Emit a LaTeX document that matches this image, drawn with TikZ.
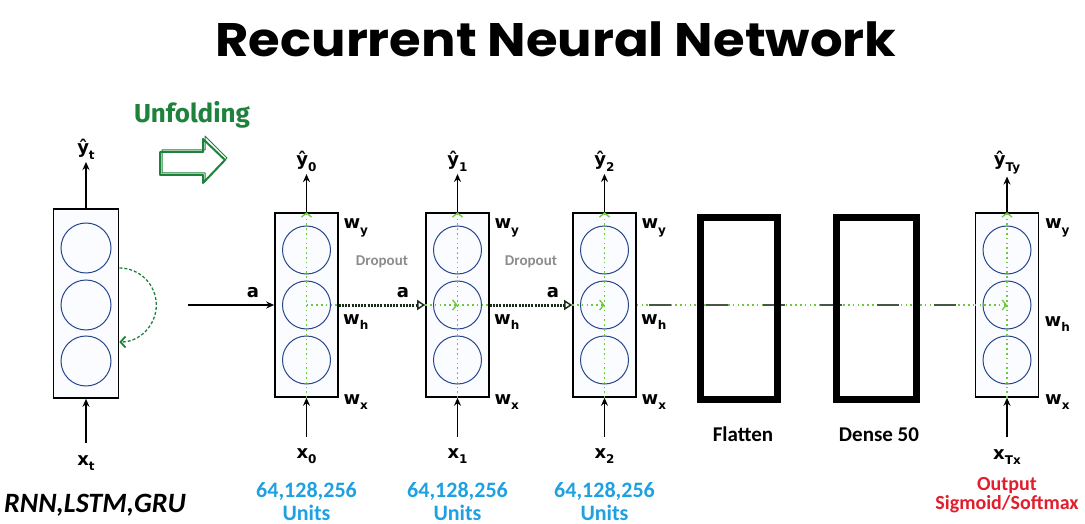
\documentclass[tikz,border=0pt]{standalone}
\usepackage{fontspec}
\setmainfont{DejaVu Sans}
\newfontfamily\titlefont{Poppins}
\newfontfamily\calfont{Carlito}
\newfontfamily\firafont{Fira Sans}
\usetikzlibrary{arrows.meta}

\definecolor{unitblue}{RGB}{40,70,140}
\definecolor{cellfill}{RGB}{250,252,255}
\definecolor{lgreen}{RGB}{110,200,60}
\definecolor{dgreen}{RGB}{30,130,60}
\definecolor{darkdot}{RGB}{25,45,25}
\definecolor{unitsblue}{RGB}{30,160,225}
\definecolor{outred}{RGB}{225,30,45}
\definecolor{dropgray}{RGB}{140,140,140}

% symbol with a lowered subscript
\newcommand\symsub[2]{#1\raisebox{-0.32em}{\fontsize{12}{12}\selectfont #2}}

\begin{document}
\begin{tikzpicture}[x=1pt,y=-1pt,
  cell/.style={draw=black, line width=1.6pt, fill=cellfill, minimum width=63pt, minimum height=184pt, inner sep=0pt},
  unit/.style={circle, draw=unitblue, line width=1pt, minimum size=48pt, inner sep=0pt},
  layerbox/.style={draw=black, line width=7pt, minimum width=77pt, minimum height=182pt, inner sep=0pt},
  lab/.style={inner sep=0pt, font=\bfseries\fontsize{18}{22}\selectfont},
  wlab/.style={inner sep=0pt, font=\bfseries\fontsize{18}{22}\selectfont},
  arr/.style={line width=1.8pt, -{Stealth[length=8pt,width=7pt]}},
  gdot/.style={draw=lgreen, line width=1.6pt, dash pattern=on 1.6pt off 3.2pt},
  chev/.style={-{Straight Barb[length=4pt,width=10pt,line width=1.3pt]}},
  recur/.style={draw=darkdot, line width=3pt, dash pattern=on 2pt off 1.2pt,
    -{Triangle[open,length=8pt,width=10pt,line width=1.5pt]}},
  darkdash/.style={draw=darkdot!80, line width=2.5pt, dash pattern=on 22pt off 35pt},
  unitstxt/.style={inner sep=0pt, text=unitsblue, font=\calfont\bfseries\fontsize{22}{24}\selectfont},
  outtxt/.style={inner sep=0pt, text=outred, font=\calfont\bfseries\fontsize{20}{22}\selectfont},
  captxt/.style={inner sep=0pt, font=\calfont\bfseries\fontsize{21}{24}\selectfont},
  droptxt/.style={inner sep=0pt, text=dropgray, font=\calfont\bfseries\fontsize{15}{17}\selectfont},
]
\useasboundingbox (0,0) rectangle (1085,524);

% title
\node[inner sep=0pt, anchor=base, font=\titlefont\bfseries\fontsize{47}{50}\selectfont] (title) at (556,57) {\scalebox{1.09}[1]{Recurrent Neural Network}};

% unfolding label and hollow arrow
\node[inner sep=0pt, anchor=base, text=dgreen, font=\firafont\bfseries\fontsize{26}{28}\selectfont] (unf) at (192,123) {Unfolding};
\draw[dgreen, line width=1pt, line join=round] (162,150) -- (205,150) -- (205,136) -- (227,158) -- (205,181) -- (205,173) -- (162,173) -- cycle;
\draw[dgreen, line width=2pt, line join=round] (160,152) -- (203,152) -- (203,139) -- (225,160) -- (203,183) -- (203,175) -- (160,175) -- cycle;

% folded cell
\node[cell, minimum width=65pt, minimum height=189pt] (L) at (86,303.5) {};
\node[unit, minimum size=50pt] (L-u1) at (86,248) {};
\node[unit, minimum size=50pt] (L-u2) at (86,305) {};
\node[unit, minimum size=50pt] (L-u3) at (86,361) {};
\coordinate (Ltop) at (L.east |- 0,268);
\draw[dgreen, line width=1.3pt, dash pattern=on 3pt off 2pt, -{Straight Barb[length=5pt,width=11pt,line width=1.8pt]}]
  (Ltop) arc[start angle=-90, end angle=90, radius=37];
\node[lab, anchor=base] (Ly) at (86,154) {\symsub{ŷ}{t}};
\node[lab, anchor=base] (Lx) at (86,465) {\symsub{x}{t}};
\draw[arr, shorten >=2pt] (L.north) -- (Ly.south);
\draw[arr, shorten <=12pt] (Lx.north) -- (L.south);
\node[inner sep=0pt, anchor=base west, font=\calfont\bfseries\itshape\fontsize{28}{30}\selectfont] (kinds) at (4,512) {RNN,LSTM,GRU};

% unfolded cells
\foreach \n/\x/\s in {c0/306.5/0, c1/457.5/1, c2/604.5/2}{
  \node[cell] (\n) at (\x,305) {};
  \node[unit] (\n-u1) at (\x,250) {};
  \node[unit] (\n-u2) at (\x,305) {};
  \node[unit] (\n-u3) at (\x,360) {};
  \draw[gdot, chev] (\n.south) -- (\n.north);
  \node[lab, anchor=base] (\n-y) at (\x,166) {\symsub{ŷ}{\s}};
  \node[lab, anchor=base] (\n-x) at (\x,458) {\symsub{x}{\s}};
  \draw[arr, shorten >=2pt] (\n.north) -- (\n-y.south);
  \draw[arr, shorten <=11pt] (\n-x.north) -- (\n.south);
  \node[wlab] (\n-wy) at ([xshift=17pt]\n.east |- 0,228) {\symsub{w}{y}};
  \node[wlab] (\n-wh) at ([xshift=17pt]\n.east |- 0,322) {\symsub{w}{h}};
  \node[wlab] (\n-wx) at ([xshift=17pt]\n.east |- 0,402) {\symsub{w}{x}};
  \node[unitstxt, anchor=base] (\n-units) at (\x,497) {64,128,256};
  \node[unitstxt, anchor=base] (\n-unitw) at (\x,520) {Units};
}

% output cell
\node[cell] (cT) at (1007,305) {};
\node[unit] (cT-u1) at (1007,250) {};
\node[unit] (cT-u2) at (1007,305) {};
\node[unit] (cT-u3) at (1007,360) {};
\draw[gdot, chev] (cT.south) -- (cT.north);
\node[lab, anchor=base] (cT-y) at (1007,166) {\symsub{ŷ}{Ty}};
\node[lab, anchor=base] (cT-x) at (1007,459) {\symsub{x}{Tx}};
\draw[arr, shorten >=2pt] (cT.north) -- (cT-y.south);
\draw[arr, shorten <=12pt] (cT-x.north) -- (cT.south);
\node[wlab] (cT-wy) at ([xshift=18pt]cT.east |- 0,228) {\symsub{w}{y}};
\node[wlab] (cT-wh) at ([xshift=18pt]cT.east |- 0,324) {\symsub{w}{h}};
\node[wlab] (cT-wx) at ([xshift=18pt]cT.east |- 0,402) {\symsub{w}{x}};
\node[outtxt, anchor=base] (outa) at (1007,490) {Output};
\node[outtxt, anchor=base] (outb) at (1007,509) {Sigmoid/Softmax};

% hidden-state flow
\coordinate (ain) at (188,305);
\draw[arr] (ain) -- (c0.west);
\node[lab, anchor=base] (a0) at (253,297) {a};
\draw[gdot] (c0-u2.center) -- (c0.east);
\draw[gdot, chev] (c1.west) -- (c1-u2.center);
\draw[gdot] (c1-u2.center) -- (c1.east);
\draw[gdot, chev] (c2.west) -- (c2-u2.center);
\draw[gdot, chev] (cT.west) -- (cT-u2.center);
\draw[recur] (c0.east) -- (c1.west);
\draw[recur] (c1.east) -- (c2.west);
\node[lab, anchor=base] (a1) at (403,297) {a};
\node[lab, anchor=base] (a2) at (553,297) {a};
\node[droptxt, anchor=base] (d1) at (382,265) {Dropout};
\node[droptxt, anchor=base] (d2) at (531,265) {Dropout};

% dense part
\draw[gdot] (c2.east) -- (cT.west);
\draw[darkdash] ([xshift=12pt]c2.east) -- (cT.west);
\node[layerbox] (flat) at (739,308.5) {};
\node[layerbox, minimum width=80pt] (dense) at (876.5,308.5) {};
\node[captxt, anchor=base] (flatlab) at (743,441) {Flatten};
\node[captxt, anchor=base] (denselab) at (879,441) {Dense 50};
\end{tikzpicture}
\end{document}
